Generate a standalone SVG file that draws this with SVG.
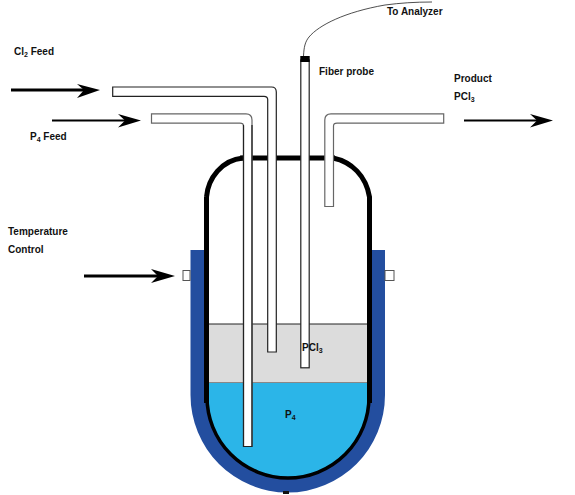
<svg xmlns="http://www.w3.org/2000/svg" width="575" height="495" viewBox="0 0 575 495">
<style>
text{font-family:"Liberation Sans",Arial,sans-serif;font-size:10px;font-weight:bold;fill:#111}
.sub{font-size:7px}
.pipe{fill:#fff;stroke:#222;stroke-width:1.2}
.pipeg{fill:#fff;stroke:#666;stroke-width:1.2}
.wall{fill:none;stroke:#000;stroke-linecap:butt}
.shaft{stroke:#000;fill:none}
.head{fill:#000}
</style>
<rect width="575" height="495" fill="#fff"/>
<g id="jacket">
<path d="M190.500 250H205V395H368V250H385V395A97.250 97.500 0 0 1 190.500 395Z" fill="#234e9f"/>
<rect x="283" y="491" width="6" height="3" fill="#111"/>
</g>
<g id="port-left"><rect x="183" y="270.500" width="7" height="10" fill="#fff" stroke="#555"/></g>
<g id="port-right"><rect x="385" y="270.500" width="9" height="10" fill="#fff" stroke="#555"/></g>
<g id="liquid-p4">
<path d="M208 383H368V397A80 80 0 0 1 208 397Z" fill="#2bb5e8"/>
</g>
<g id="liquid-pcl3">
<rect x="208.500" y="324" width="159.500" height="58" fill="#dcdcdc"/>
<path d="M208.500 324H368" stroke="#222" stroke-width="1"/>
<path d="M208.500 382.500H368" stroke="#888" stroke-width="1.200"/>
</g>
<g id="vessel">
<path class="wall" stroke-width="5" d="M206.500 197C208 178 222 160 243 158M206.500 197V403M369.500 403V197C366 176 352 162 333 158"/>
<path class="wall" stroke-width="5" d="M240 158H335"/>
<path class="wall" stroke-width="3.500" d="M207 397A81 81 0 0 0 369 397"/>
</g>
<g id="pipe-cl2"><path class="pipe" d="M112.700 87H271.500Q276.300 87 276.300 92V352H267.700V99.500Q267.700 96.300 264 96.300H112.700Z"/></g>
<g id="pipe-p4"><path class="pipeg" d="M151.500 113.800H246Q252 113.800 252 120V446.500H243.500V126Q243.500 123.200 240 123.200H151.500Z"/>
<path d="M252 125V446.500H243.500V125" fill="none" stroke="#222" stroke-width="1.200"/></g>
<g id="pipe-product"><path class="pipeg" d="M443.700 113.800H331Q324.800 113.800 324.800 120V206.500H333.500V126Q333.500 123.200 337 123.200H443.700Z"/></g>
<g id="fiber-probe">
<rect x="300.800" y="60" width="8.400" height="307.800" class="pipe"/>
<rect x="300.300" y="56" width="9.400" height="6" fill="#000"/>
<path d="M303.500 56C304 47 305 42 309 37C319 25 345 12 385 5C400 3 415 2 432 2" fill="none" stroke="#222" stroke-width="0.800"/>
</g>
<g id="connectors">
<path class="shaft" stroke-width="3" d="M11 90H88"/><path class="head" d="M77 84L100 90L77 98L84 90Z"/>
<path class="shaft" stroke-width="2" d="M52 120.500H128"/><path class="head" d="M118 114L141 120.500L118 127.500L125 120.500Z"/>
<path class="shaft" stroke-width="2" d="M464 120.500H542"/><path class="head" d="M530 114L553 120.500L530 127.500L537 120.500Z"/>
<path class="shaft" stroke-width="3" d="M84 276H162"/><path class="head" d="M151 269L175 276L151 283L158 276Z"/>
</g>
<g id="labels">
<text x="14" y="55">Cl<tspan class="sub" dy="2">2</tspan><tspan dy="-2"> Feed</tspan></text>
<text x="30" y="140">P<tspan class="sub" dy="2">4</tspan><tspan dy="-2"> Feed</tspan></text>
<text x="387" y="15">To Analyzer</text>
<text x="319" y="75">Fiber probe</text>
<text x="454" y="82">Product</text>
<text x="454" y="100">PCl<tspan class="sub" dy="2">3</tspan></text>
<text x="8" y="235">Temperature</text>
<text x="8" y="253">Control</text>
<text x="302" y="351">PCl<tspan class="sub" dy="2">3</tspan></text>
<text x="285" y="418">P<tspan class="sub" dy="2">4</tspan></text>
</g>
</svg>
